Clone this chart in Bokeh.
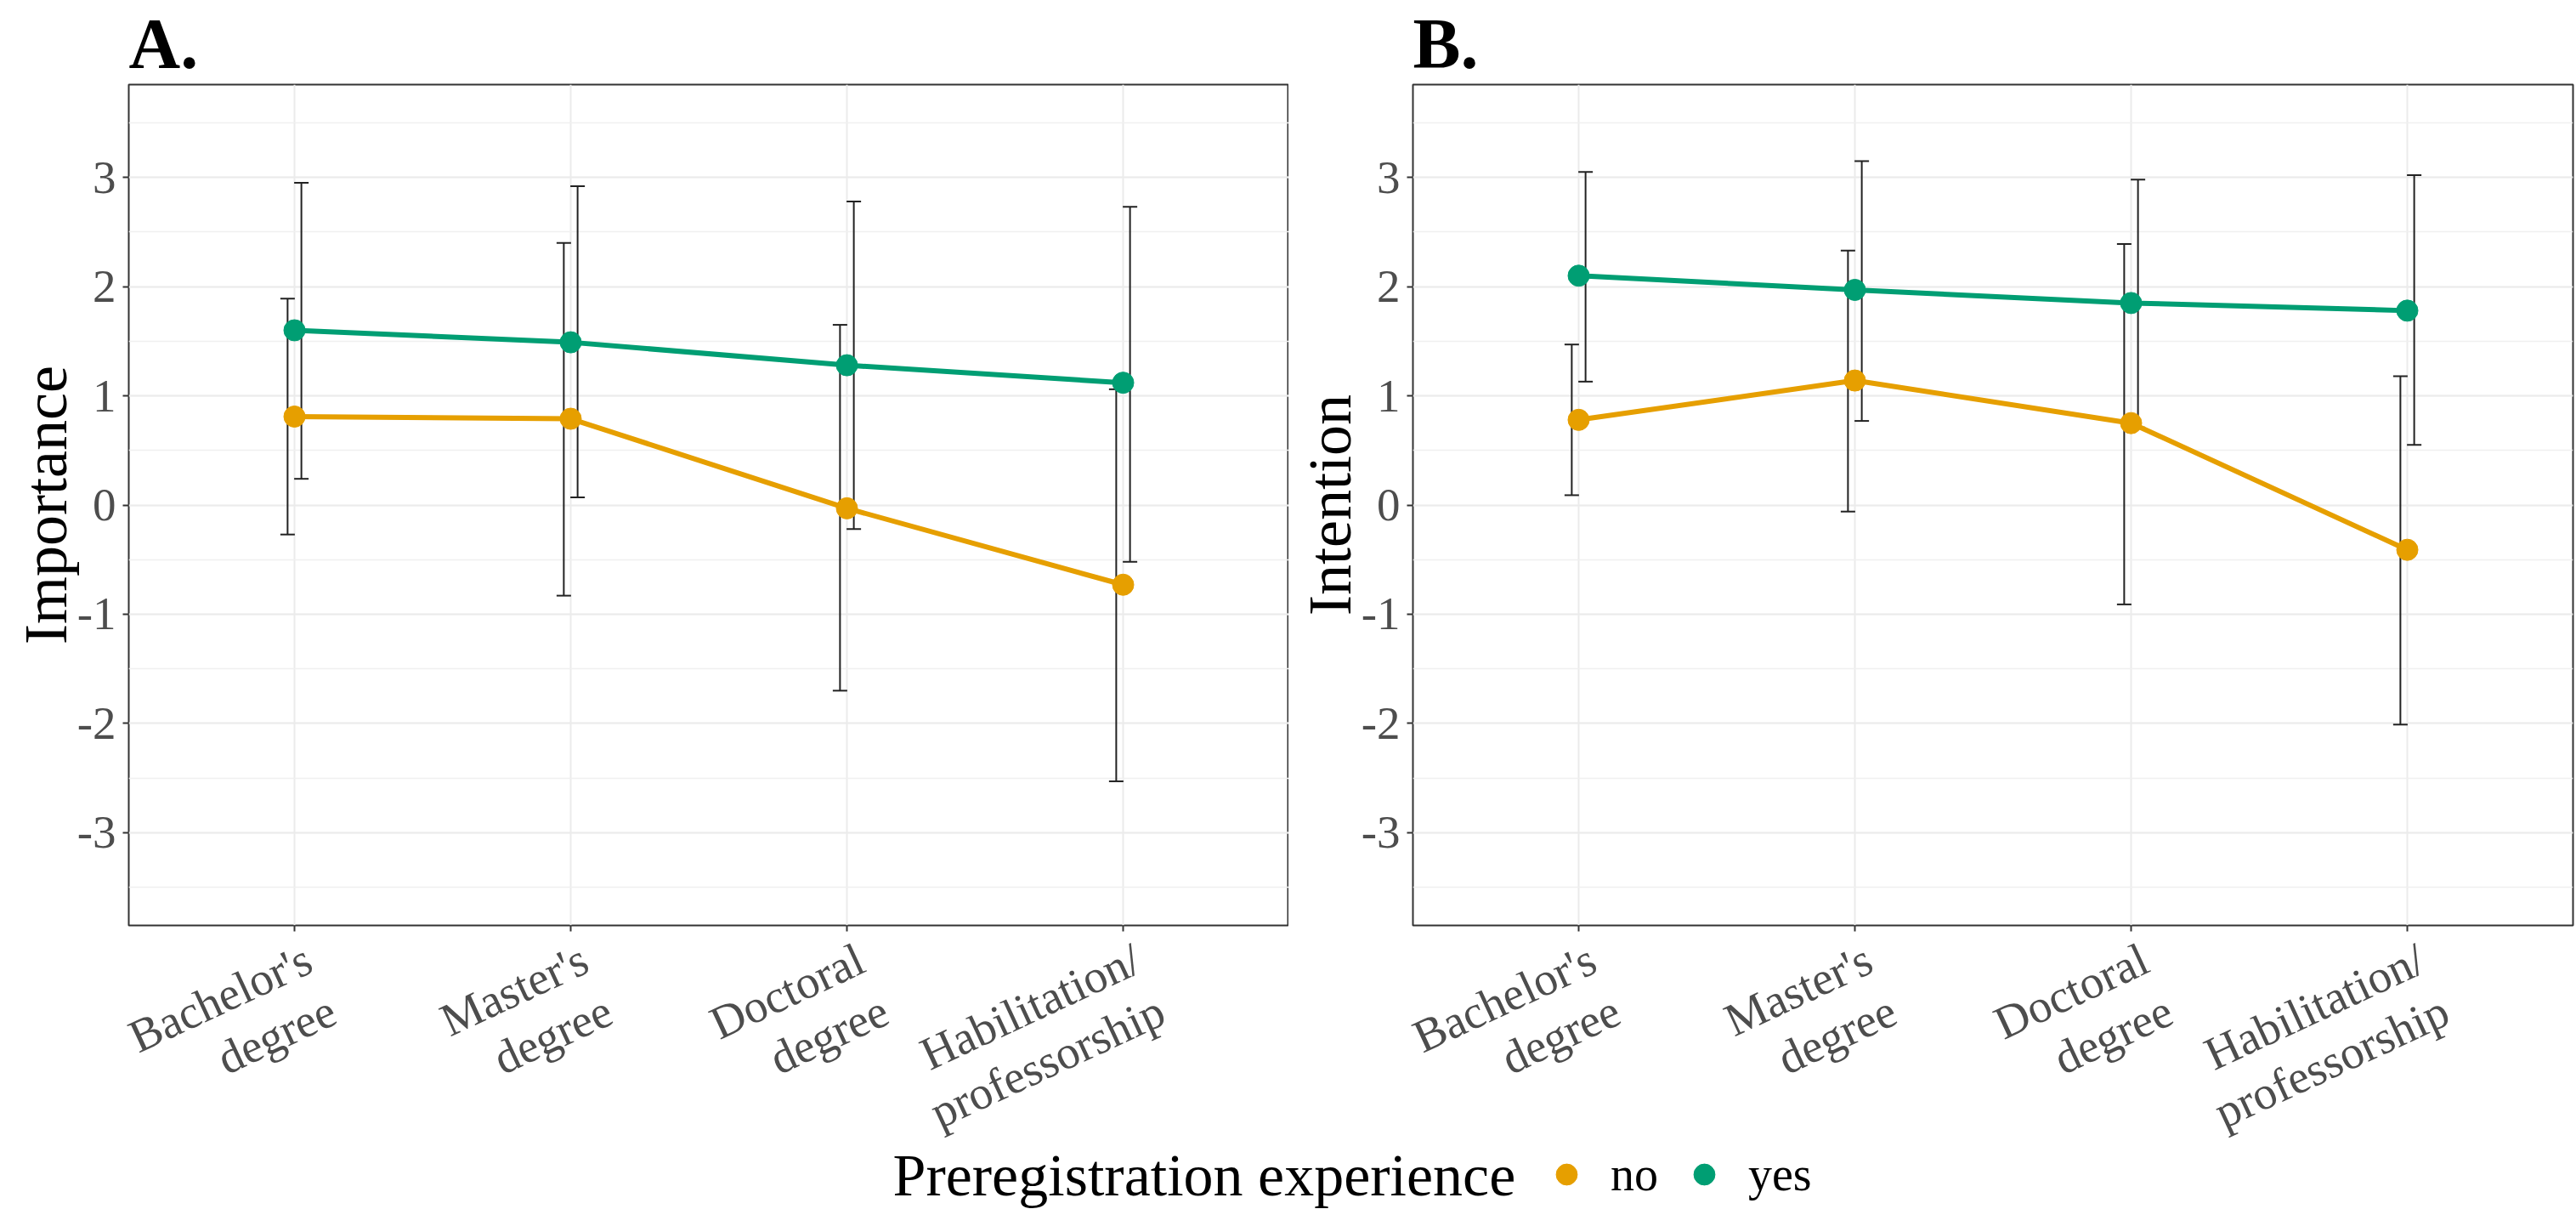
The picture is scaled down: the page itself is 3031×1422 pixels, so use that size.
import math
from bokeh.plotting import figure
from bokeh.models import (ColumnDataSource, Whisker, TeeHead, FixedTicker, Range1d,
                          Legend, LegendItem, Label, SingleIntervalTicker)
from bokeh.layouts import column, row
from bokeh.transform import dodge
from bokeh.embed import file_html
from bokeh.resources import INLINE

# Academic degree levels (x axis)
degrees = ["Bachelor's\ndegree", "Master's\ndegree", "Doctoral\ndegree", "Habilitation/\nprofessorship"]
groups = ["no", "yes"]

# Panel A: importance of preregistration (mean and interval bounds)
imp_no_mean = [0.81, 0.79, -0.03, -0.73]
imp_no_lo = [-0.27, -0.83, -1.70, -2.53]
imp_no_hi = [1.89, 2.40, 1.65, 1.06]
imp_yes_mean = [1.60, 1.49, 1.28, 1.12]
imp_yes_lo = [0.24, 0.07, -0.22, -0.52]
imp_yes_hi = [2.95, 2.92, 2.78, 2.73]

# Panel B: intention to preregister
int_no_mean = [0.78, 1.14, 0.75, -0.41]
int_no_lo = [0.09, -0.06, -0.91, -2.01]
int_no_hi = [1.47, 2.33, 2.39, 1.18]
int_yes_mean = [2.10, 1.97, 1.85, 1.78]
int_yes_lo = [1.13, 0.77, 0.71, 0.55]
int_yes_hi = [3.05, 3.15, 2.98, 3.02]

y_ticks = [-3, -2, -1, 0, 1, 2, 3]
Y_LIMITS = (-3.85, 3.85)
X_LIMITS = (0.4, 4.6)

COLORS = {"no": "#E69F00", "yes": "#009E73"}
SERIF = "Liberation Serif"
FRAME_W, FRAME_H = 1365, 989
TOP, AXIS_H, STRIP_H, LEGEND_H = 97, 9, 241, 86
xpos = list(range(1, len(degrees) + 1))


def make_panel(letter, ylabel, series, border_left, border_right):
    p = figure(frame_width=FRAME_W, frame_height=FRAME_H,
               min_border_left=border_left, min_border_right=border_right,
               min_border_top=TOP, min_border_bottom=AXIS_H,
               x_range=Range1d(*X_LIMITS), y_range=Range1d(*Y_LIMITS),
               output_backend="svg", toolbar_location=None, title=letter)
    p.background_fill_color = "white"
    p.border_fill_color = "white"
    p.outline_line_color = "#333333"
    p.outline_line_width = 2

    p.title.text_font = SERIF
    p.title.text_font_size = "84px"
    p.title.text_font_style = "bold"
    p.title.text_color = "black"
    p.title.align = "left"
    p.title.offset = 0
    p.title.standoff = 4

    # x axis: tick marks only (degree names sit in the strip underneath)
    p.xaxis.ticker = FixedTicker(ticks=xpos)
    p.xaxis.major_label_overrides = {x: "" for x in xpos}
    p.xaxis.major_label_text_font_size = "0px"
    p.xaxis.major_label_standoff = 0
    p.xaxis.minor_tick_line_color = None

    # y axis
    p.yaxis.ticker = SingleIntervalTicker(interval=1, num_minor_ticks=2)
    p.yaxis.major_label_overrides = {v: str(v) for v in y_ticks}
    p.yaxis.minor_tick_line_color = None
    p.yaxis.major_label_text_font = SERIF
    p.yaxis.major_label_text_font_size = "55px"
    p.yaxis.major_label_text_color = "#4D4D4D"
    p.yaxis.major_label_standoff = 8
    p.yaxis.axis_label = ylabel
    p.yaxis.axis_label_text_font = SERIF
    p.yaxis.axis_label_text_font_size = "72px"
    p.yaxis.axis_label_text_font_style = "normal"
    p.yaxis.axis_label_text_color = "black"
    p.yaxis.axis_label_standoff = -6

    for ax in (p.xaxis, p.yaxis):
        ax.axis_line_color = None
        ax.major_tick_line_color = "#333333"
        ax.major_tick_line_width = 2
        ax.major_tick_out = 7
        ax.major_tick_in = 0

    p.xgrid.grid_line_color = "#EBEBEB"
    p.xgrid.grid_line_width = 2
    p.ygrid.grid_line_color = "#EBEBEB"
    p.ygrid.grid_line_width = 2.2
    p.ygrid.minor_grid_line_color = "#F0F0F0"
    p.ygrid.minor_grid_line_width = 1.6

    for grp, (mean, lo, hi), shift in zip(groups, series, (-0.025, 0.025)):
        src = ColumnDataSource(dict(x=xpos, mean=mean, lo=lo, hi=hi))
        whisk = Whisker(source=src, base=dodge("x", shift), upper="hi", lower="lo",
                        dimension="height", line_color="#222222", line_width=2,
                        upper_head=TeeHead(size=17, line_color="#222222", line_width=2),
                        lower_head=TeeHead(size=17, line_color="#222222", line_width=2),
                        level="underlay")
        p.add_layout(whisk)
        p.line("x", "mean", source=src, line_color=COLORS[grp], line_width=6)
        p.scatter("x", "mean", source=src, size=25, fill_color=COLORS[grp],
                  line_color=COLORS[grp])
    return p


def make_label_strip(border_left, border_right):
    # same x scale as the panel above, widened so slanted names are not cut
    per_px = (X_LIMITS[1] - X_LIMITS[0]) / FRAME_W
    xr = Range1d(X_LIMITS[0] - border_left * per_px, X_LIMITS[1] + border_right * per_px)
    s = figure(frame_width=FRAME_W + border_left + border_right, frame_height=STRIP_H,
               min_border=0, x_range=xr, y_range=Range1d(0, 1),
               output_backend="svg", toolbar_location=None)
    s.axis.visible = False
    s.grid.visible = False
    s.outline_line_color = None
    s.text(x=xpos, y=[s.y_range.end] * len(xpos), text=degrees,
           angle=math.radians(25), x_offset=4, text_align="right", text_baseline="top",
           text_font=SERIF, text_font_size="55px", text_color="#4D4D4D",
           text_line_height=1.1)
    return s


pA = make_panel("A.", "Importance",
                [(imp_no_mean, imp_no_lo, imp_no_hi), (imp_yes_mean, imp_yes_lo, imp_yes_hi)],
                151, 0)
pB = make_panel("B.", "Intention",
                [(int_no_mean, int_no_lo, int_no_hi), (int_yes_mean, int_yes_lo, int_yes_hi)],
                146, 4)
sA = make_label_strip(151, 0)
sB = make_label_strip(146, 4)

# Shared legend strip below both panels
leg = figure(frame_width=3031, frame_height=LEGEND_H, min_border=0,
             x_range=Range1d(0, 1), y_range=Range1d(0, 1),
             output_backend="svg", toolbar_location=None)
leg.axis.visible = False
leg.grid.visible = False
leg.outline_line_color = None
items = []
for grp in groups:
    # key glyph only: the single point has no position of its own
    r = leg.scatter(x=[float("nan")], y=[float("nan")], size=25,
                    fill_color=COLORS[grp], line_color=COLORS[grp])
    items.append(LegendItem(label=grp, renderers=[r]))
legend = Legend(items=items, orientation="horizontal", location=(1812, 11),
                glyph_width=62, glyph_height=62, label_standoff=21, spacing=23,
                padding=0, border_line_color=None, background_fill_alpha=0,
                label_text_font=SERIF, label_text_font_size="56px",
                label_text_color="black", label_text_baseline="middle")
leg.add_layout(legend)
leg.add_layout(Label(x=1050, y=42, x_units="screen", y_units="screen",
                     text="Preregistration experience", text_font=SERIF,
                     text_font_size="70px", text_color="black", text_baseline="middle"))

layout = column(row(pA, pB), row(sA, sB), leg)
open("out.html", "w").write(file_html(layout, INLINE))
